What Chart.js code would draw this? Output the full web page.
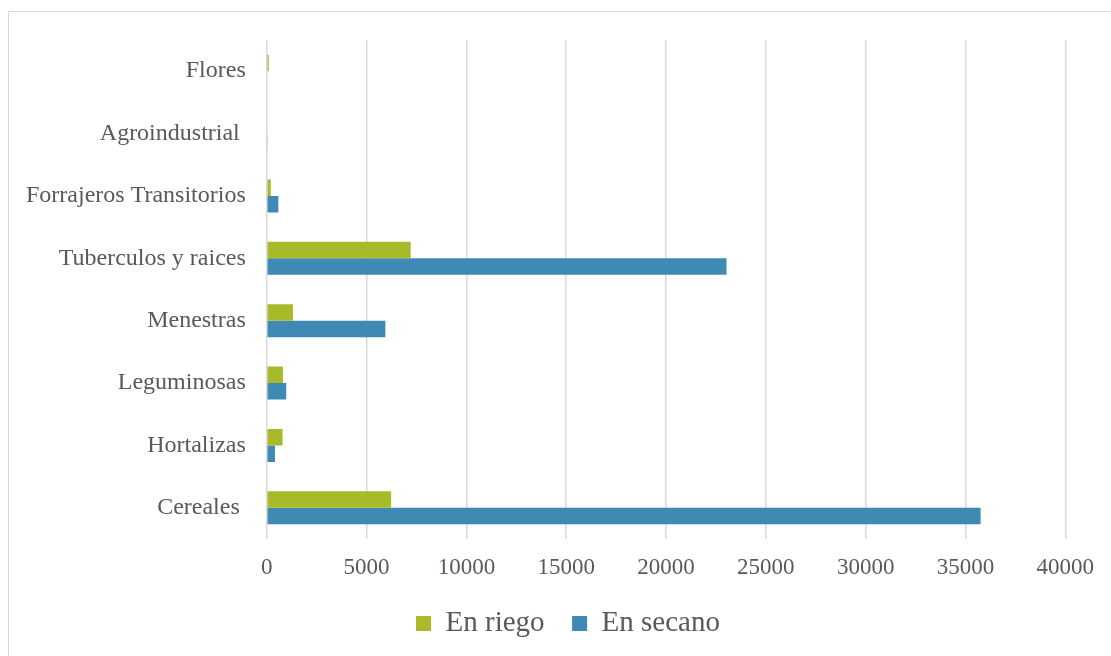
<!DOCTYPE html>
<html>
<head>
<meta charset="utf-8">
<script src="https://cdn.jsdelivr.net/npm/chart.js@4"></script>
<style>
  body { margin: 0; background: #fff; }
  #wrap { position: relative; width: 1111px; height: 656px; overflow: hidden; }
  #frame { position: absolute; left: 8px; top: 11px; width: 1120px; height: 670px; border: 1px solid #d9d9d9; }
  #box { position: absolute; left: 0; top: 0; width: 1111px; height: 656px; }
</style>
</head>
<body>
<div id="wrap">
  <div id="frame"></div>
  <div id="box"><canvas id="myChart"></canvas></div>
</div>
<script>
// categories top to bottom
const cultivos = ['Flores', 'Agroindustrial ', 'Forrajeros Transitorios', 'Tuberculos y raices', 'Menestras', 'Leguminosas', 'Hortalizas', 'Cereales ']
const enRiego = [100, 0, 200, 7210, 1310, 810, 790, 6230]
const enSecano = [0, 30, 580, 23030, 5940, 975, 410, 35760]
const xTicks = [0, 5000, 10000, 15000, 20000, 25000, 30000, 35000, 40000]

const serif = "'Liberation Serif', 'Times New Roman', serif"
const gris = '#595959'

// legend sits a bit right of the canvas centre in the original
const moverLeyenda = {
  id: 'moverLeyenda',
  afterLayout(chart) {
    chart.legend.left += 32
    chart.legend.right += 32
  }
}

const ctx = document.getElementById('myChart')
new Chart(ctx, {
  type: 'bar',
  data: {
    labels: cultivos,
    datasets: [{
      label: 'En riego',
      data: enRiego,
      backgroundColor: '#a8b92a',
      categoryPercentage: 0.53,
      barPercentage: 1
    }, {
      label: 'En secano',
      data: enSecano,
      backgroundColor: '#3f89b5',
      categoryPercentage: 0.53,
      barPercentage: 1
    }]
  },
  options: {
    indexAxis: 'y',
    responsive: true,
    maintainAspectRatio: false,
    animation: false,
    layout: { padding: { left: 5, right: 44, top: 40, bottom: 8 } },
    scales: {
      x: {
        min: 0,
        max: 40000,
        afterBuildTicks: (axis) => { axis.ticks = xTicks.map(v => ({ value: v })) },
        grid: { color: '#d9d9d9', lineWidth: 1.5, drawTicks: false },
        border: { display: false },
        ticks: {
          color: gris,
          padding: 17,
          font: { family: serif, size: 23, lineHeight: 1 },
          callback: (v) => String(v)
        }
      },
      y: {
        grid: { display: false, drawTicks: false },
        border: { display: false },
        ticks: { color: gris, padding: 21, font: { family: serif, size: 24 } }
      }
    },
    plugins: {
      legend: {
        position: 'bottom',
        labels: {
          color: gris,
          boxWidth: 15,
          boxHeight: 15,
          padding: 13,
          font: { family: serif, size: 29, lineHeight: 1 },
          generateLabels: (chart) => Chart.defaults.plugins.legend.labels.generateLabels(chart).map((l, i) => {
            if (i === 0) l.text += '  '
            return l
          })
        }
      },
      tooltip: { enabled: false }
    }
  },
  plugins: [moverLeyenda]
})
</script>
</body>
</html>
